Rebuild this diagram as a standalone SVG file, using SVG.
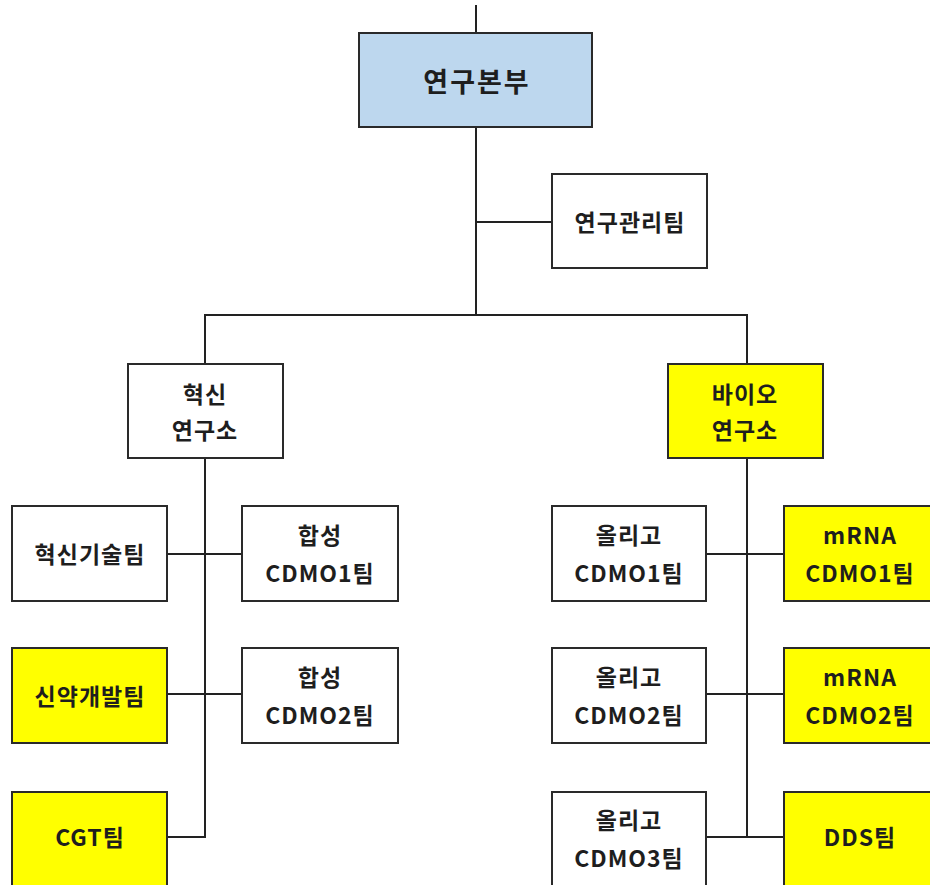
<svg xmlns="http://www.w3.org/2000/svg" width="930" height="885" viewBox="0 0 930 885">
<style>
.box{stroke:#2a2a2a;stroke-width:2;}
.w{fill:#ffffff;}
.y{fill:#ffff00;}
.b{fill:#bdd7ee;}
.t{font-family:"Noto Sans CJK KR","Noto Sans",sans-serif;font-weight:bold;font-size:23px;fill:#1e1e1e;text-anchor:middle;dominant-baseline:central;letter-spacing:1px;}
.big{font-size:27px;letter-spacing:2px;}
.ln{stroke:#222;stroke-width:2;fill:none;}
</style>
<rect width="930" height="885" fill="#ffffff"/>
<g id="connectors">
<line class="ln" x1="476" y1="5" x2="476" y2="33"/>
<line class="ln" x1="476" y1="127" x2="476" y2="315"/>
<line class="ln" x1="476" y1="222" x2="552" y2="222"/>
<polyline class="ln" points="205,364 205,315 747,315 747,364"/>
<line class="ln" x1="205" y1="458" x2="205" y2="837"/>
<line class="ln" x1="167" y1="554" x2="242" y2="554"/>
<line class="ln" x1="167" y1="694" x2="242" y2="694"/>
<line class="ln" x1="167" y1="837" x2="206" y2="837"/>
<line class="ln" x1="747" y1="458" x2="747" y2="837"/>
<line class="ln" x1="706" y1="554" x2="784" y2="554"/>
<line class="ln" x1="706" y1="694" x2="784" y2="694"/>
<line class="ln" x1="706" y1="837" x2="784" y2="837"/>
</g>
<g id="hq"><rect class="box b" x="359" y="33" width="233" height="94"/><text class="t big" x="477" y="80">연구본부</text></g>
<g id="mgmt"><rect class="box w" x="552" y="174" width="155" height="94"/><text class="t" x="630" y="221">연구관리팀</text></g>
<g id="innov-lab"><rect class="box w" x="128" y="364" width="155" height="94"/><text class="t" x="205" y="393">혁신</text><text class="t" x="205" y="429">연구소</text></g>
<g id="bio-lab"><rect class="box y" x="668" y="364" width="155" height="94"/><text class="t" x="745" y="393">바이오</text><text class="t" x="745" y="429">연구소</text></g>
<g id="innov-tech"><rect class="box w" x="12" y="506" width="155" height="95"/><text class="t" x="90" y="553">혁신기술팀</text></g>
<g id="syn1"><rect class="box w" x="242" y="506" width="156" height="95"/><text class="t" x="320" y="534">합성</text><text class="t" x="320" y="572">CDMO1팀</text></g>
<g id="drug-dev"><rect class="box y" x="12" y="648" width="155" height="95"/><text class="t" x="90" y="695">신약개발팀</text></g>
<g id="syn2"><rect class="box w" x="242" y="648" width="156" height="95"/><text class="t" x="320" y="676">합성</text><text class="t" x="320" y="714">CDMO2팀</text></g>
<g id="cgt"><rect class="box y" x="12" y="792" width="155" height="110"/><text class="t" x="90" y="836">CGT팀</text></g>
<g id="oligo1"><rect class="box w" x="552" y="506" width="154" height="95"/><text class="t" x="629" y="534">올리고</text><text class="t" x="629" y="572">CDMO1팀</text></g>
<g id="mrna1"><rect class="box y" x="784" y="506" width="160" height="95"/><text class="t" x="860" y="534">mRNA</text><text class="t" x="860" y="572">CDMO1팀</text></g>
<g id="oligo2"><rect class="box w" x="552" y="648" width="154" height="95"/><text class="t" x="629" y="676">올리고</text><text class="t" x="629" y="714">CDMO2팀</text></g>
<g id="mrna2"><rect class="box y" x="784" y="648" width="160" height="95"/><text class="t" x="860" y="676">mRNA</text><text class="t" x="860" y="714">CDMO2팀</text></g>
<g id="oligo3"><rect class="box w" x="552" y="792" width="154" height="110"/><text class="t" x="629" y="819">올리고</text><text class="t" x="629" y="857">CDMO3팀</text></g>
<g id="dds"><rect class="box y" x="784" y="792" width="160" height="110"/><text class="t" x="860" y="836">DDS팀</text></g>
</svg>
